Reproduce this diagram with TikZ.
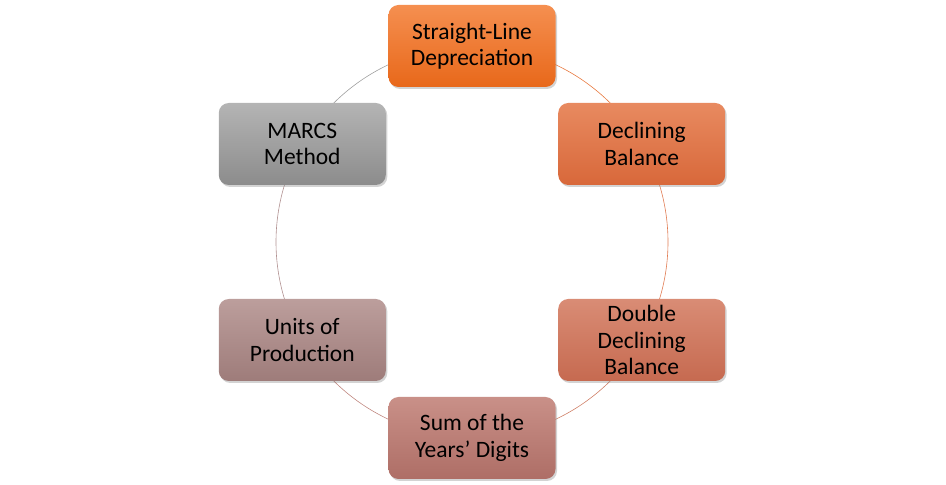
\documentclass[tikz,border=0pt]{standalone}
\usepackage{fontspec}
\setmainfont{Carlito}
\usetikzlibrary{shadows}
\definecolor{c1t}{HTML}{F58F50}\definecolor{c1b}{HTML}{E8681A}
\definecolor{c2t}{HTML}{E88A60}\definecolor{c2b}{HTML}{D8683A}
\definecolor{c3t}{HTML}{D98C75}\definecolor{c3b}{HTML}{C66A50}
\definecolor{c4t}{HTML}{C99088}\definecolor{c4b}{HTML}{AE6E66}
\definecolor{c5t}{HTML}{BC9E9C}\definecolor{c5b}{HTML}{9E7C7A}
\definecolor{c6t}{HTML}{B4B4B4}\definecolor{c6b}{HTML}{8C8C8C}
\definecolor{a1}{HTML}{E87A40}\definecolor{a2}{HTML}{E07A50}
\definecolor{a3}{HTML}{D08068}\definecolor{a4}{HTML}{C08880}
\definecolor{a5}{HTML}{B09090}\definecolor{a6}{HTML}{A0A0A0}
\tikzset{
  box/.style={rounded corners=10pt, minimum width=167pt, minimum height=82pt,
    inner sep=2pt, align=center, font=\fontsize{23.5}{26.5}\selectfont, text=black,
    drop shadow={shadow xshift=1.5pt, shadow yshift=-2pt, opacity=0.35}},
  ring/.style={line width=0.6pt}
}
\begin{document}
\begin{tikzpicture}[x=1pt,y=1pt]
\useasboundingbox (0,0) rectangle (946,485);
\coordinate (c) at (472,243);
\draw[ring,a1] ([shift={(90:196)}]c) arc[start angle=90,end angle=30,radius=196];
\draw[ring,a2] ([shift={(30:196)}]c) arc[start angle=30,end angle=-30,radius=196];
\draw[ring,a3] ([shift={(-30:196)}]c) arc[start angle=-30,end angle=-90,radius=196];
\draw[ring,a4] ([shift={(-90:196)}]c) arc[start angle=-90,end angle=-150,radius=196];
\draw[ring,a5] ([shift={(-150:196)}]c) arc[start angle=-150,end angle=-210,radius=196];
\draw[ring,a6] ([shift={(150:196)}]c) arc[start angle=150,end angle=90,radius=196];
\node[box, top color=c1t, bottom color=c1b] (n1) at ([shift={(90:196)}]c) {Straight-Line\\Depreciation};
\node[box, top color=c2t, bottom color=c2b] (n2) at ([shift={(30:196)}]c) {Declining\\Balance};
\node[box, top color=c3t, bottom color=c3b] (n3) at ([shift={(-30:196)}]c) {Double\\Declining\\Balance};
\node[box, top color=c4t, bottom color=c4b] (n4) at ([shift={(-90:196)}]c) {Sum of the\\Years’ Digits};
\node[box, top color=c5t, bottom color=c5b] (n5) at ([shift={(-150:196)}]c) {Units of\\Production};
\node[box, top color=c6t, bottom color=c6b] (n6) at ([shift={(150:196)}]c) {MARCS\\Method};
\end{tikzpicture}
\end{document}
